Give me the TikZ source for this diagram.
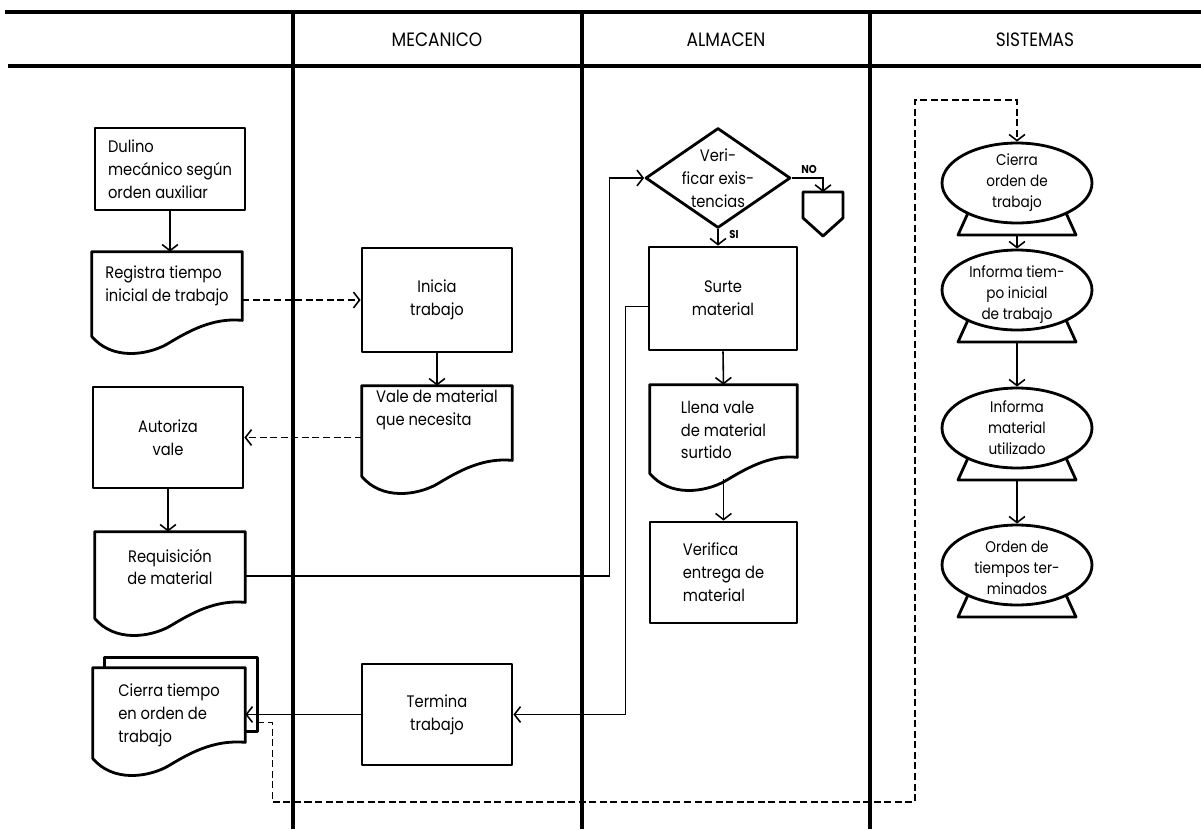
\documentclass[tikz,border=0pt]{standalone}
\usepackage{fontspec}
\setmainfont{Poppins}[FakeStretch=0.88]
\usetikzlibrary{arrows.meta,calc,shapes.geometric}
\newcommand\myfs{\fontsize{9.5}{13}\selectfont}
\newcommand\myfe{\fontsize{8.8}{12}\selectfont}
\newcommand\myfh{\fontsize{11}{12}\selectfont}
\newcommand\myfl{\fontsize{6.5}{7}\selectfont\bfseries}
% document outline: #1 node, #2 extra length (px) of the right side below the node
\newcommand\drawdoc[2]{%
  \draw[shp] ($(#1.south west)+(0,#2+16)$) -- (#1.north west) -- (#1.north east)
    -- ($(#1.south east)+(0,#2)$)
    .. controls ($(#1.south west)+(120,#2-3)$) and ($(#1.south west)+(95,#2+12)$) .. ($(#1.south west)+(75,#2+24)$)
    .. controls ($(#1.south west)+(55,#2+35)$) and ($(#1.south west)+(20,#2+40)$) .. ($(#1.south west)+(0,#2+16)$) -- cycle;}
\begin{document}
\begin{tikzpicture}[x=0.02cm,y=-0.02cm,
  lane/.style={line width=2pt},
  shp/.style={line width=1.6pt, line join=round},
  box/.style={draw, shp, rectangle, inner sep=0pt, font=\myfs, align=center},
  docn/.style={rectangle, inner sep=0pt, font=\myfs, align=center},
  txt/.style={font=\myfs, align=center, inner sep=0pt},
  etxt/.style={font=\myfe, align=center, inner sep=0pt},
  conn/.style={line width=0.9pt, -{Straight Barb[length=3.5pt,width=9pt,line width=0.9pt]}},
  dconn/.style={conn, dash pattern=on 4pt off 2pt},
  hdr/.style={font=\myfh, inner sep=0pt},
  lab/.style={font=\myfl, inner sep=0pt},
  ell/.style={draw, shp, ellipse, inner sep=0pt, minimum width=3cm, minimum height=1.6cm},
  dia/.style={draw, shp, diamond, inner sep=0pt, minimum width=2.9cm, minimum height=2cm},
]
\fill[white] (0,0) rectangle (1201,829);
\useasboundingbox (0,0) rectangle (1201,829);

% swimlanes
\draw[lane] (5,12) -- (1201,12);
\draw[lane] (8,66) -- (1201,66);
\draw[lane] (293,12) -- (293,829);
\draw[lane] (582,12) -- (582,829);
\draw[lane] (870,12) -- (870,829);
\node[hdr] (hm) at (437,40) {MECANICO};
\node[hdr] (ha) at (726,40) {ALMACEN};
\node[hdr] (hs) at (1035,40) {SISTEMAS};

% left lane
\node[box, minimum width=3cm, minimum height=1.64cm, align=left] (def) at (170,169) {Dulino\\mecánico según\\orden auxiliar};
\node[docn, minimum width=3cm, minimum height=1.36cm, align=left] (reg) at (167,286) {Registra tiempo\\inicial de trabajo};
\drawdoc{reg}{0}
\node[box, minimum width=3cm, minimum height=2.02cm] (aut) at (168,437.5) {Autoriza\\vale};
\node[docn, minimum width=3cm, minimum height=1.4cm] (req) at (170,567) {Requisición\\de material};
\drawdoc{req}{0}
\node[docn, minimum width=3.04cm, minimum height=1.88cm, align=left] (cie) at (169,715) {Cierra tiempo\\en orden de\\trabajo};
\draw[shp] ($(cie.north west)+(12,0)$) -- ++(0,-10) -| ($(cie.north east)+(12,64)$) -- ++(-12,0);
\drawdoc{cie}{-20}

% mecanico lane
\node[box, minimum width=3cm, minimum height=2.08cm] (ini) at (437,300) {Inicia\\trabajo};
\node[docn, minimum width=3cm, minimum height=0.96cm, align=left] (vale) at (437,410) {Vale de material\\que necesita};
\drawdoc{vale}{26}
\node[box, minimum width=3cm, minimum height=2.02cm] (ter) at (437,714.5) {Termina\\trabajo};

% almacen lane
\node[dia] (ver) at (718,178) {};
\node[txt] (vert) at (ver) {Veri-\\ficar exis-\\tencias};
\coordinate (offp) at (823,192);
\draw[shp] (803,192) -- (843,192) -- (843,218) -- (823,236) -- (803,218) -- cycle;
\node[lab] (no) at (809,169) {NO};
\node[lab] (si) at (734,234) {SI};
\node[box, minimum width=2.96cm, minimum height=2.06cm] (sur) at (723,298.5) {Surte\\material};
\node[docn, minimum width=2.94cm, minimum height=1.8cm, align=left] (lle) at (723.5,430) {Llena vale\\de material\\surtido};
\drawdoc{lle}{-18}
\node[box, minimum width=2.94cm, minimum height=2.02cm, align=left] (vfy) at (723.5,572.5) {Verifica\\entrega de\\material};

% sistemas lane
\foreach \n/\y in {e1/183,e2/290,e3/428,e4/565}{
  \node[ell] (\n) at (1017,\y) {};
  \draw[shp] ($(\n.center)+(-49,30)$) -- ($(\n.center)+(-59,52)$) -- ($(\n.center)+(59,52)$) -- ($(\n.center)+(49,30)$);
  \coordinate (\n s) at ($(\n.center)+(0,52)$);
}
\node[etxt] (t1) at (e1) {Cierra\\orden de\\trabajo};
\node[etxt] (t2) at ($(e2.center)+(0,5)$) {Informa tiem-\\po inicial\\de trabajo};
\node[etxt] (t3) at (e3) {Informa\\material\\utilizado};
\node[etxt] (t4) at ($(e4.center)+(0,3)$) {Orden de\\tiempos ter-\\minados};

% connectors
\draw[conn] (def.south) -- (def.south |- reg.north);
\draw[dconn] (ini.west -| reg.east) -- (ini.west);
\draw[conn] (ini.south) -- (ini.south |- vale.north);
\draw[dconn] (aut.east -| vale.west) -- (aut.east);
\draw[conn] (aut.south) -- (aut.south |- req.north);
\draw[conn] ($(req.east)+(0,9)$) -- ++(364,0) |- (ver.west);
\draw[conn] (ver.east) -| (offp);
\draw[conn] (ver.south) -- (ver.south |- sur.north);
\draw[conn] (sur.south) -- (lle.north);
\coordinate (lw) at ($(lle.south)+(0,4)$);
\draw[conn] (lw) -- (lw |- vfy.north);
\draw[conn] ($(sur.west)+(0,8)$) -- ++(-22,0) |- (ter.east);
\draw[conn] (ter.west) -- (ter.west -| cie.east);
\coordinate (cb) at ($(cie.north east)+(12,55)$);
\coordinate (lp) at (915,802);
\coordinate (lq) at (915,100);
\draw[dconn] (cb) -- ++(15,0) |- (lp) -- (lq) -| (e1.north);
\draw[conn] (e1s) -- (e2.north);
\draw[conn] (e2s) -- (e3.north);
\draw[conn] (e3s) -- (e4.north);
\end{tikzpicture}
\end{document}
